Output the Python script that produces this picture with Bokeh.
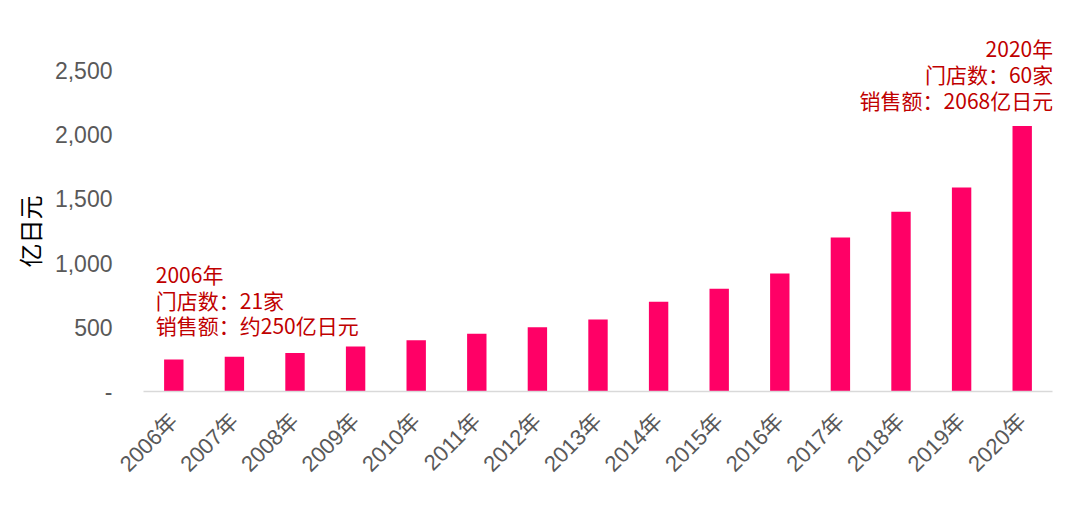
import math
from bokeh.plotting import figure
from bokeh.models import FactorRange, Range1d, FixedTicker, NumeralTickFormatter, Title, ColumnDataSource
from bokeh.core.properties import value
from bokeh.embed import file_html
from bokeh.resources import INLINE

years = ["2006年", "2007年", "2008年", "2009年", "2010年", "2011年", "2012年", "2013年",
         "2014年", "2015年", "2016年", "2017年", "2018年", "2019年", "2020年"]
sales = [250, 270, 300, 350, 400, 450, 500, 560, 700, 800, 920, 1200, 1400, 1590, 2068]
y_ticks = [0, 500, 1000, 1500, 2000, 2500]
y_title = "亿日元"
note_first = "2006年\n门店数：21家\n销售额：约250亿日元"
note_last = "2020年\n门店数：60家\n销售额：2068亿日元"

AXIS_FONT = "'Liberation Sans', 'Noto Sans CJK SC'"
GRAY = "#595959"
RED = "#C00000"

p = figure(width=1064, height=510, x_range=FactorRange(*years), y_range=Range1d(0, 2890),
           output_backend="svg", toolbar_location=None,
           min_border_left=143, min_border_right=12, min_border_top=20, min_border_bottom=119)
p.outline_line_color = None
p.xgrid.grid_line_color = None
p.ygrid.grid_line_color = None

src = ColumnDataSource(dict(x=years, top=sales))
p.vbar(x="x", top="top", width=0.32, source=src, fill_color="#FF0066", line_color=None)

# y axis
p.yaxis.ticker = FixedTicker(ticks=y_ticks)
p.yaxis.formatter = NumeralTickFormatter(format="0,0")
p.yaxis.major_label_overrides = {0: "-"}
p.yaxis.axis_line_color = None
p.yaxis.major_tick_line_color = None
p.yaxis.minor_tick_line_color = None
p.yaxis.major_label_standoff = 25
p.yaxis.major_label_text_font = AXIS_FONT
p.yaxis.major_label_text_font_size = "23px"
p.yaxis.major_label_text_color = GRAY

# x axis
p.xaxis.axis_line_color = "#D9D9D9"
p.xaxis.axis_line_width = 1.5
p.xaxis.major_tick_line_color = None
p.xaxis.minor_tick_line_color = None
p.xaxis.major_label_orientation = math.pi / 4
p.xaxis.major_label_standoff = 20
p.xaxis.major_label_text_font = AXIS_FONT
p.xaxis.major_label_text_font_size = "22px"
p.xaxis.major_label_text_color = GRAY

# annotations
p.text(x=[years[0]], y=[sales[0]], text=[note_first], x_offset=-18, y_offset=-19,
       text_align="left", text_baseline="bottom", text_line_height=0.86,
       text_font=value("Noto Sans CJK SC"), text_font_size="21px", text_color=RED)
p.text(x=[years[-1]], y=[sales[-1]], text=[note_last], x_offset=31, y_offset=-11,
       text_align="right", text_baseline="bottom", text_line_height=0.86,
       text_font=value("Noto Sans CJK SC"), text_font_size="21px", text_color=RED)

ttl = Title(text=y_title, align="left", offset=124, text_font="Noto Sans CJK SC",
            text_font_size="24px", text_font_style="normal", text_color="#000000")
p.add_layout(ttl, "left")

open("out.html", "w").write(file_html(p, INLINE))
